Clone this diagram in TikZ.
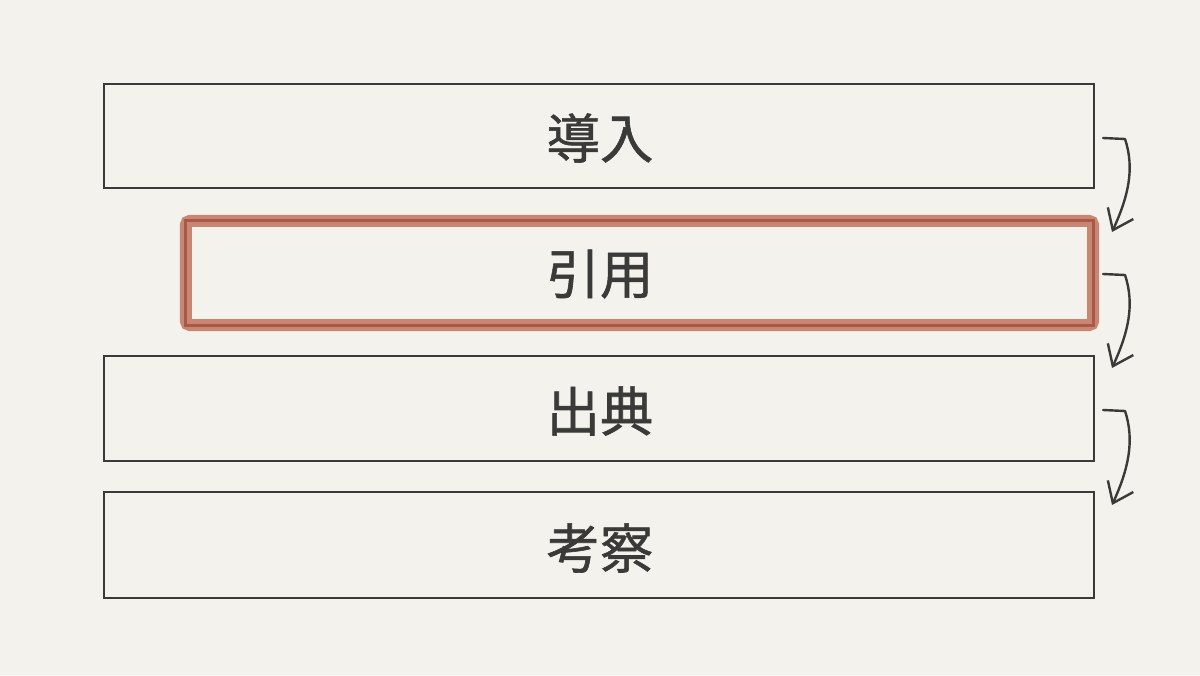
\documentclass[tikz,border=0pt]{standalone}
\usepackage{fontspec}
\newfontfamily\jpfont[FakeBold=1.1]{Noto Sans CJK JP}
\usetikzlibrary{arrows.meta,calc}
\definecolor{bg}{HTML}{F4F2EC}
\definecolor{ink}{HTML}{3A3A38}
\definecolor{salmon}{HTML}{C98672}
\definecolor{rust}{HTML}{A95A46}
\tikzset{
  stagebox/.style={draw=ink, line width=1.6pt, inner sep=0pt},
  stagelabel/.style={font=\jpfont\fontsize{40}{48}\selectfont, text=ink, inner sep=0pt},
  flowarrow/.style={draw=ink, line width=1.8pt, line cap=round, line join=round, -{Straight Barb[length=14pt,width=21pt,line width=1.8pt]}},
}
\begin{document}
\begin{tikzpicture}[x=0.75pt,y=-0.75pt]
\useasboundingbox[fill=bg] (0,0) rectangle (1200,675);
\node[stagebox, minimum width=990*0.75pt, minimum height=104*0.75pt] (b1) at (599,136) {};
\node[stagebox, draw=none, minimum width=905*0.75pt, minimum height=102*0.75pt] (b2) at (639.5,273) {};
\draw[salmon, line width=9pt, rounded corners=3pt] (b2.north west) rectangle (b2.south east);
\draw[rust, line width=2.2pt] (b2.north west) rectangle (b2.south east);
\node[stagebox, minimum width=990*0.75pt, minimum height=105*0.75pt] (b3) at (599,408.5) {};
\node[stagebox, minimum width=990*0.75pt, minimum height=106*0.75pt] (b4) at (599,545) {};
\node[stagelabel] (t1) at (600,138) {導入};
\node[stagelabel] (t2) at (600,274) {引用};
\node[stagelabel] (t3) at (600,411) {出典};
\node[stagelabel] (t4) at (600,548) {考察};
\coordinate (a1s) at (1103,138); \coordinate (a1e) at (1112,232);
\coordinate (a2s) at (1103,274); \coordinate (a2e) at (1112,368);
\coordinate (a3s) at (1103,410); \coordinate (a3e) at (1112,505);
\foreach \s/\e in {a1s/a1e,a2s/a2e,a3s/a3e}{
  \draw[flowarrow] (\s) -- ++(22,1) .. controls +(10,30) and +(16,-35) .. (\e);
}
\end{tikzpicture}
\end{document}
